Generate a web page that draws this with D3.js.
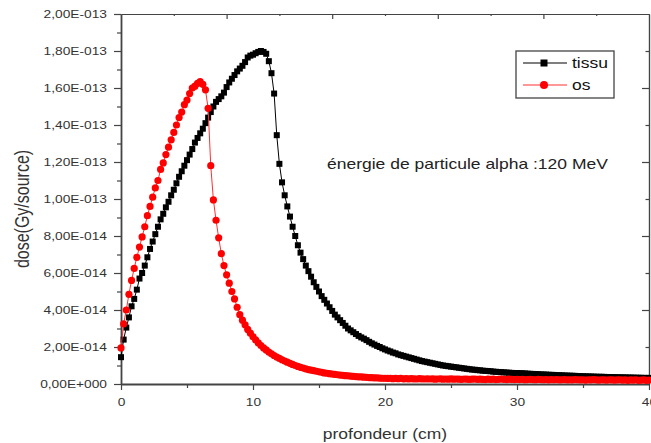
<!DOCTYPE html>
<html lang="fr">
<head>
<meta charset="UTF-8">
<title>Dose en profondeur</title>
<script src="https://d3js.org/d3.v7.min.js"></script>
<style>
  body { margin: 0; background: #fff; }
  svg { display: block; font-family: "Liberation Sans", Arial, sans-serif; }
  .axis text { fill: #333; font-size: 11px; }
</style>
</head>
<body>
<svg width="651" height="443"></svg>
<script>
// profondeur échantillonnée tous les 0,2 cm, doses en unités de 1E-14 Gy/source
const depthStep = 0.2;

const tissu = [
  1.45, 2.4, 3.05, 3.6, 4.2, 4.6, 5.1, 5.7, 6.0, 6.4,
  6.85, 7.3, 7.7, 8.1, 8.5, 8.9, 9.2, 9.55, 9.85, 10.2,
  10.5, 10.85, 11.2, 11.5, 11.8, 12.1, 12.4, 12.7, 13.05, 13.3,
  13.55, 13.8, 14.1, 14.4, 14.7, 15.0, 15.25, 15.4, 15.55, 15.75,
  16.05, 16.3, 16.5, 16.7, 16.9, 17.05, 17.2, 17.4, 17.65, 17.75,
  17.8, 17.88, 17.95, 18.0, 17.95, 17.85, 17.45, 16.8, 15.7, 13.45,
  11.9, 10.9, 10.2, 9.6, 9.05, 8.5, 8.0, 7.5, 7.1, 6.75,
  6.4, 6.1, 5.8, 5.5, 5.25, 5.0, 4.75, 4.55, 4.35, 4.15,
  3.95, 3.75, 3.6, 3.45, 3.3, 3.15, 3.0, 2.9, 2.8, 2.7,
  2.6, 2.52, 2.45, 2.37, 2.28, 2.2, 2.13, 2.06, 2.0, 1.93,
  1.87, 1.81, 1.76, 1.7, 1.66, 1.6, 1.56, 1.52, 1.48, 1.44,
  1.4, 1.36, 1.32, 1.28, 1.24, 1.21, 1.18, 1.15, 1.12, 1.09,
  1.06, 1.03, 1.0, 0.98, 0.96, 0.94, 0.92, 0.9, 0.88, 0.86,
  0.84, 0.82, 0.8, 0.78, 0.77, 0.75, 0.74, 0.72, 0.71, 0.7,
  0.69, 0.67, 0.66, 0.65, 0.64, 0.63, 0.62, 0.61, 0.6, 0.595,
  0.59, 0.585, 0.58, 0.57, 0.56, 0.55, 0.545, 0.54, 0.53, 0.52,
  0.515, 0.51, 0.5, 0.495, 0.49, 0.48, 0.475, 0.47, 0.46, 0.455,
  0.45, 0.445, 0.44, 0.43, 0.425, 0.42, 0.415, 0.41, 0.405, 0.4,
  0.395, 0.39, 0.39, 0.385, 0.38, 0.375, 0.37, 0.37, 0.365, 0.36,
  0.36, 0.355, 0.35, 0.35, 0.345, 0.34, 0.34, 0.335, 0.33, 0.33,
  0.33
];

const os = [
  1.95, 3.25, 4.0, 4.85, 5.6, 6.25, 6.85, 7.4, 7.95, 8.5,
  9.1, 9.6, 10.1, 10.6, 11.0, 11.6, 11.95, 12.4, 12.8, 13.2,
  13.6, 14.0, 14.4, 14.7, 15.1, 15.35, 15.7, 16.0, 16.1, 16.25,
  16.35, 16.2, 15.9, 14.9, 11.8, 9.95, 8.85, 7.9, 7.05, 6.4,
  5.9, 5.45, 5.0, 4.6, 4.15, 3.75, 3.45, 3.2, 2.95, 2.75,
  2.55, 2.38, 2.22, 2.08, 1.95, 1.84, 1.73, 1.63, 1.54, 1.46,
  1.38, 1.31, 1.24, 1.18, 1.12, 1.06, 1.0, 0.95, 0.9, 0.86,
  0.82, 0.78, 0.75, 0.72, 0.69, 0.66, 0.63, 0.6, 0.58, 0.56,
  0.54, 0.52, 0.5, 0.48, 0.47, 0.45, 0.44, 0.43, 0.41, 0.4,
  0.39, 0.38, 0.37, 0.36, 0.35, 0.34, 0.33, 0.33, 0.32, 0.31,
  0.31, 0.3, 0.31, 0.29, 0.3, 0.29, 0.3, 0.28, 0.29, 0.28,
  0.29, 0.28, 0.27, 0.29, 0.28, 0.27, 0.28, 0.27, 0.28, 0.26,
  0.27, 0.28, 0.26, 0.27, 0.26, 0.28, 0.26, 0.27, 0.26, 0.25,
  0.27, 0.26, 0.25, 0.26, 0.27, 0.25, 0.26, 0.25, 0.24, 0.26,
  0.25, 0.26, 0.24, 0.25, 0.27, 0.25, 0.24, 0.26, 0.25, 0.24,
  0.25, 0.24, 0.25, 0.23, 0.24, 0.25, 0.24, 0.23, 0.25, 0.24,
  0.23, 0.24, 0.22, 0.24, 0.23, 0.24, 0.22, 0.23, 0.24, 0.22,
  0.23, 0.22, 0.24, 0.23, 0.22, 0.23, 0.21, 0.23, 0.22, 0.24,
  0.22, 0.21, 0.23, 0.22, 0.21, 0.23, 0.22, 0.21, 0.22, 0.23,
  0.21, 0.22, 0.2, 0.22, 0.21, 0.23, 0.2, 0.21, 0.22, 0.2,
  0.21
];

const seriesNames = ["tissu", "os"];
const xTicks = [0, 10, 20, 30, 40];
const xMinorTicks = [5, 15, 25, 35];
const yTicks = [0, 2, 4, 6, 8, 10, 12, 14, 16, 18, 20];
const yMinorTicks = [1, 3, 5, 7, 9, 11, 13, 15, 17, 19];
const yTickLabels = ["0,00E+000", "2,00E-014", "4,00E-014", "6,00E-014", "8,00E-014",
  "1,00E-013", "1,20E-013", "1,40E-013", "1,60E-013", "1,80E-013", "2,00E-013"];
const xTitle = "profondeur (cm)";
const yTitle = "dose(Gy/source)";
const note = "énergie de particule alpha :120 MeV";

const svg = d3.select("svg");
const sx = 1.25; // le texte de l'original est étiré horizontalement
const plotL = 121, plotR = 649, plotT = 14, plotB = 384;

const x = d3.scaleLinear().domain([0, 40]).range([plotL, plotR]);
const y = d3.scaleLinear().domain([0, 20]).range([plotB, plotT]);
const xTop = d3.scaleLinear().domain([0, 50]).range([plotL, plotR]);

// axes
const gLeft = svg.append("g").attr("class", "axis").attr("transform", `translate(${plotL},0)`);
gLeft.call(d3.axisLeft(y).tickValues(yMinorTicks).tickSize(4).tickSizeOuter(0).tickFormat(""));
gLeft.call(g => g.select(".domain").remove());
gLeft.append("g").call(d3.axisLeft(y).tickValues(yTicks).tickSize(7).tickSizeOuter(0)
  .tickFormat((d, i) => yTickLabels[i]));
gLeft.selectAll("text").attr("x", -14 / sx).attr("transform", `scale(${sx},1)`);

const gBottom = svg.append("g").attr("class", "axis").attr("transform", `translate(0,${plotB})`);
gBottom.call(d3.axisBottom(x).tickValues(xMinorTicks).tickSize(4).tickSizeOuter(0).tickFormat(""));
gBottom.call(g => g.select(".domain").remove());
gBottom.append("g").call(d3.axisBottom(x).tickValues(xTicks).tickSize(6).tickSizeOuter(0)
  .tickFormat(d3.format("d")));
gBottom.selectAll("text").attr("y", 14).attr("transform", `scale(${sx},1)`);

const gTop = svg.append("g").attr("class", "axis").attr("transform", `translate(0,${plotT})`);
gTop.call(d3.axisBottom(xTop).tickValues([5, 15, 25, 35, 45]).tickSize(2).tickSizeOuter(0).tickFormat(""));
gTop.append("g").call(d3.axisBottom(xTop).tickValues([10, 20, 30, 40]).tickSize(5).tickSizeOuter(0).tickFormat(""));

const gRight = svg.append("g").attr("class", "axis").attr("transform", `translate(${plotR},0)`);
gRight.call(d3.axisRight(y).tickValues([2, 6, 10, 14, 18]).tickSize(-3.5).tickSizeOuter(0).tickFormat(""));
gRight.append("g").call(d3.axisRight(y).tickValues([4, 8, 12, 16]).tickSize(-7).tickSizeOuter(0).tickFormat(""));

svg.selectAll(".axis line").attr("stroke", "#444").attr("stroke-width", 1.2);
svg.selectAll(".axis .domain").attr("stroke", "#444").attr("stroke-width", 1.2);
gLeft.selectAll(".domain").attr("stroke-width", 1.8);
gBottom.selectAll(".domain").attr("stroke-width", 1.8);

// courbes
const rows = s => s.map((v, i) => ({ d: i * depthStep, v: v }));
const line = d3.line().x(p => x(p.d)).y(p => y(p.v));

const tData = rows(tissu), oData = rows(os);

svg.append("path").datum(tData).attr("d", line)
  .attr("fill", "none").attr("stroke", "#000").attr("stroke-width", 1);
svg.append("g").selectAll("rect").data(tData).join("rect")
  .attr("x", p => x(p.d) - 3).attr("y", p => y(p.v) - 3)
  .attr("width", 6).attr("height", 6).attr("fill", "#000");

svg.append("path").datum(oData).attr("d", line)
  .attr("fill", "none").attr("stroke", "#ff3030").attr("stroke-width", 1);
svg.append("g").selectAll("circle").data(oData).join("circle")
  .attr("cx", p => x(p.d)).attr("cy", p => y(p.v)).attr("r", 3.6).attr("fill", "#ff0000");

// légende
const leg = svg.append("g");
leg.append("rect").attr("x", 516).attr("y", 51).attr("width", 98).attr("height", 47)
  .attr("fill", "#fff").attr("stroke", "#444").attr("stroke-width", 1.3);
const legColors = ["#000", "#ff3030"];
seriesNames.forEach((name, i) => {
  const ly = 63 + i * 22;
  leg.append("line").attr("x1", 523).attr("x2", 567).attr("y1", ly).attr("y2", ly)
    .attr("stroke", legColors[i]).attr("stroke-width", 1.2);
  if (i === 0) {
    leg.append("rect").attr("x", 540.5).attr("y", ly - 3.5).attr("width", 7).attr("height", 7).attr("fill", "#000");
  } else {
    leg.append("circle").attr("cx", 544).attr("cy", ly).attr("r", 4).attr("fill", "#ff0000");
  }
  leg.append("text").attr("transform", `translate(572,${ly + 5}) scale(${sx},1)`)
    .attr("font-size", 14).attr("fill", "#111").text(name);
});

// textes
svg.append("text").attr("transform", `translate(327,169) scale(${sx},1)`)
  .attr("font-size", 14).attr("fill", "#222").text(note);

svg.append("text").attr("transform", `translate(385,439) scale(${sx},1)`)
  .attr("text-anchor", "middle").attr("font-size", 14).attr("fill", "#333").text(xTitle);

svg.append("text").attr("transform", `translate(29,209) scale(${sx},1) rotate(-90)`)
  .attr("text-anchor", "middle").attr("font-size", 16).attr("fill", "#333").text(yTitle);
</script>
</body>
</html>
